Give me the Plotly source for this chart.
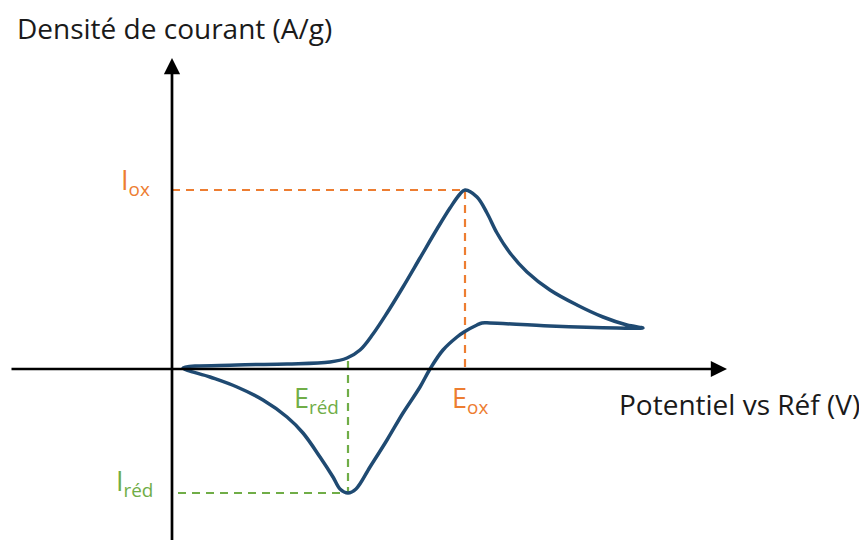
import plotly.graph_objects as go

# Schematic cyclic voltammogram (arbitrary units)
forward_x = [0.11, 0.65, 1.15, 1.58, 1.75, 1.88, 2.01, 2.15, 2.31, 2.48, 2.65, 2.78, 2.88, 2.93,
             3.05, 3.15, 3.25, 3.38, 3.55, 3.78, 4.05, 4.31, 4.55, 4.71]
forward_y = [0.01, 0.04, 0.05, 0.07, 0.11, 0.19, 0.35, 0.56, 0.82, 1.11, 1.40, 1.61, 1.75, 1.79,
             1.72, 1.56, 1.36, 1.16, 0.97, 0.79, 0.64, 0.52, 0.44, 0.41]
reverse_x = [4.71, 4.45, 3.78, 3.18, 3.10, 3.05, 2.92, 2.85, 2.71, 2.58, 2.48, 2.31, 2.15, 1.98,
             1.84, 1.76, 1.68, 1.61, 1.48, 1.31, 1.15, 0.91, 0.65, 0.38, 0.11]
reverse_y = [0.41, 0.41, 0.43, 0.46, 0.46, 0.44, 0.37, 0.32, 0.19, 0.00, -0.18, -0.44, -0.71, -0.98,
             -1.20, -1.24, -1.20, -1.08, -0.88, -0.64, -0.48, -0.31, -0.18, -0.08, 0.01]

E_ox, I_ox = 2.93, 1.79
E_red, I_red = 1.76, -1.24

x_range = [-1.64, 7.03]
y_range = [-1.79, 3.61]

ORANGE = "#ED7D31"
GREEN = "#70AD47"
BLUE = "#1F4A72"
FONT = "Open Sans"
DASH = "8px,6px"

fig = go.Figure()

# guide lines
fig.add_trace(go.Scatter(x=[0, E_ox, E_ox], y=[I_ox, I_ox, 0], mode="lines",
                         line=dict(color=ORANGE, width=2.2, dash=DASH), hoverinfo="skip"))
fig.add_trace(go.Scatter(x=[0.06, E_red, E_red], y=[I_red, I_red, 0.11], mode="lines",
                         line=dict(color=GREEN, width=2.2, dash=DASH), hoverinfo="skip"))

# curve
fig.add_trace(go.Scatter(x=forward_x + reverse_x[1:], y=forward_y + reverse_y[1:], mode="lines",
                         line=dict(color=BLUE, width=3.5, shape="spline", smoothing=1.0),
                         hoverinfo="skip"))

annotations = [
    # horizontal axis arrow
    dict(x=5.55, y=0, ax=-1.62, ay=0, xref="x", yref="y", axref="x", ayref="y",
         showarrow=True, arrowhead=2, arrowsize=1.2, arrowwidth=2.7, arrowcolor="black", text=""),
    # vertical axis arrow
    dict(x=0, y=3.11, ax=0, ay=-1.85, xref="x", yref="y", axref="x", ayref="y",
         showarrow=True, arrowhead=2, arrowsize=1.2, arrowwidth=2.7, arrowcolor="black", text=""),
    dict(x=7 / 867, y=1 - 20 / 540, xref="paper", yref="paper", xanchor="left", yanchor="middle",
         text="Densité de courant (A/g)", showarrow=False, font=dict(family=FONT, size=28, color="#1a1a1a")),
    dict(x=854 / 867, y=1 - 396 / 540, xref="paper", yref="paper", xanchor="right", yanchor="middle",
         text="Potentiel vs Réf (V)", showarrow=False, font=dict(family=FONT, size=28, color="#1a1a1a")),
    dict(x=-0.37, y=1.88, xref="x", yref="y", text="I<sub>ox</sub>", showarrow=False,
         font=dict(family=FONT, size=27, color=ORANGE)),
    dict(x=-0.38, y=-1.13, xref="x", yref="y", text="I<sub>réd</sub>", showarrow=False,
         font=dict(family=FONT, size=27, color=GREEN)),
    dict(x=1.44, y=-0.30, xref="x", yref="y", text="E<sub>réd</sub>", showarrow=False,
         font=dict(family=FONT, size=27, color=GREEN)),
    dict(x=2.98, y=-0.30, xref="x", yref="y", text="E<sub>ox</sub>", showarrow=False,
         font=dict(family=FONT, size=27, color=ORANGE)),
]

fig.update_layout(
    width=867, height=540,
    margin=dict(l=0, r=0, t=0, b=0),
    paper_bgcolor="white", plot_bgcolor="white",
    showlegend=False,
    xaxis=dict(range=x_range, visible=False, fixedrange=True),
    yaxis=dict(range=y_range, visible=False, fixedrange=True),
    annotations=annotations,
)

fig.write_html("out.html")
